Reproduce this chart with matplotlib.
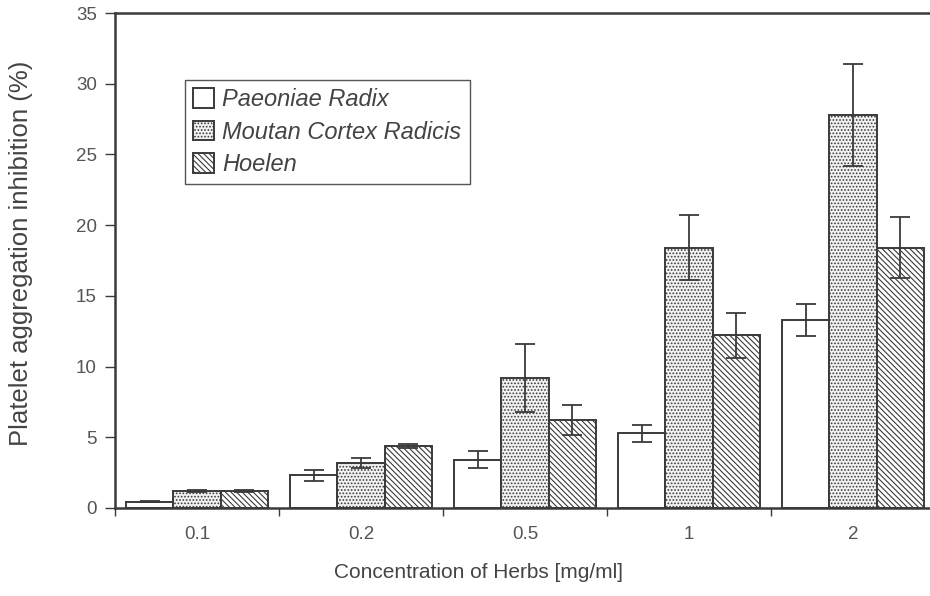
import matplotlib
matplotlib.use("Agg")
import matplotlib.pyplot as plt
import numpy as np

concentrations = ["0.1", "0.2", "0.5", "1", "2"]
series_names = ["Paeoniae Radix", "Moutan Cortex Radicis", "Hoelen"]
paeoniae = [0.45, 2.3, 3.4, 5.3, 13.3]
paeoniae_err = [0.05, 0.4, 0.6, 0.6, 1.15]
moutan = [1.2, 3.2, 9.2, 18.4, 27.8]
moutan_err = [0.08, 0.35, 2.4, 2.3, 3.6]
hoelen = [1.2, 4.4, 6.2, 12.2, 18.4]
hoelen_err = [0.08, 0.15, 1.05, 1.6, 2.15]
y_ticks = [0, 5, 10, 15, 20, 25, 30, 35]

plt.rcParams['font.family'] = ['Liberation Sans', 'DejaVu Sans']
plt.rcParams['hatch.linewidth'] = 0.8

fig = plt.figure(figsize=(9.3, 5.96), dpi=100)
ax = fig.add_axes([115/930, 88/596, 820/930, 495/596])

dark = '#3a3a3a'
x = np.arange(len(concentrations))
w = 0.287
styles = [
    dict(facecolor='white', hatch=None),
    dict(facecolor='#f2f2f2', hatch='.....'),
    dict(facecolor='white', hatch='\\\\\\\\\\\\'),
]
data = [(paeoniae, paeoniae_err), (moutan, moutan_err), (hoelen, hoelen_err)]
for i, ((vals, errs), st, name) in enumerate(zip(data, styles, series_names)):
    pos = x + (i - 1) * w
    ax.bar(pos, vals, width=w, facecolor=st['facecolor'], hatch=st['hatch'],
           edgecolor=dark, linewidth=1.4, label=name, zorder=2)
    ax.errorbar(pos, vals, yerr=errs, fmt='none', ecolor=dark, elinewidth=1.3,
                capsize=7, capthick=1.3, zorder=3)

ax.set_xlim(-0.5, 4.5)
ax.set_ylim(0, 35)
ax.set_yticks(y_ticks)
ax.set_xticks(x)
ax.set_xticklabels(concentrations)
ax.set_xticks(np.arange(-0.5, 5.0, 1.0), minor=True)
ax.tick_params(axis='x', which='major', length=0, pad=13, labelsize=13.5, labelcolor='#555555')
ax.tick_params(axis='x', which='minor', length=6, width=1, color=dark, direction='out')
ax.tick_params(axis='y', length=7, width=1, color=dark, direction='out', pad=6,
               labelsize=13.5, labelcolor='#555555')
for sp in ax.spines.values():
    sp.set_linewidth(1.8)
    sp.set_color(dark)

fig.text(479/930, 1 - 572/596, "Concentration of Herbs [mg/ml]", fontsize=15,
         color='#444444', ha='center', va='center')
fig.text(21/930, 1 - 253/596, "Platelet aggregation inhibition (%)", fontsize=18.5,
         color='#444444', ha='center', va='center', rotation=90)

leg = ax.legend(loc='upper left', bbox_to_anchor=(0.085, 0.865), borderaxespad=0,
                handlelength=0.9, handleheight=0.9, handletextpad=0.35,
                fancybox=False, framealpha=1, edgecolor='#555555',
                prop={'style': 'italic', 'size': 17}, labelspacing=0.4,
                borderpad=0.35)
leg.get_frame().set_linewidth(1.0)
for t in leg.get_texts():
    t.set_color('#444444')

fig.savefig("out.png", dpi=100)
